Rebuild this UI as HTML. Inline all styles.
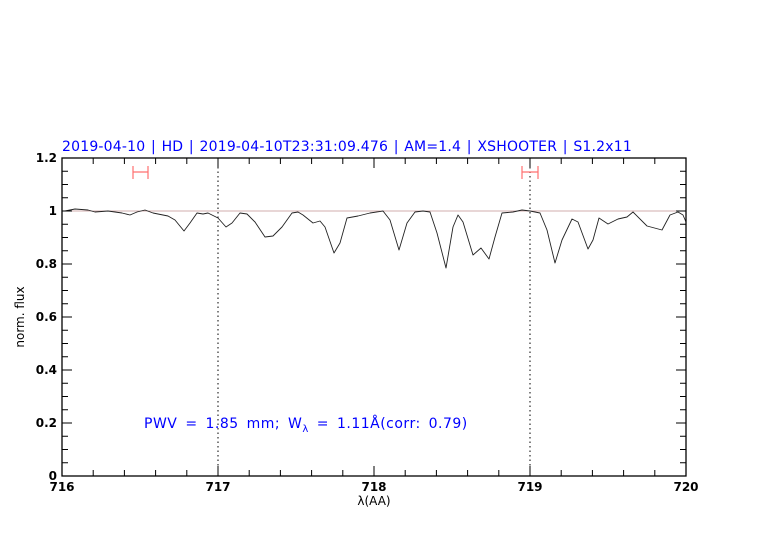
<!DOCTYPE html><html><head><style>body{margin:0;background:#fff}svg{display:block}</style></head><body>
<svg width="782" height="542" xmlns="http://www.w3.org/2000/svg" font-family="Liberation Sans, sans-serif">
<rect width="782" height="542" fill="#fff"/>
<text x="62" y="151" fill="#0000ff" font-size="14" font-family="DejaVu Sans, sans-serif" letter-spacing="0.2" word-spacing="1">2019-04-10 | HD | 2019-04-10T23:31:09.476 | AM=1.4 | XSHOOTER | S1.2x11</text>
<line x1="62" y1="211" x2="686" y2="211" stroke="#c09090" stroke-width="0.8"/>
<line x1="218" y1="158" x2="218" y2="476" stroke="#000" stroke-dasharray="1.5,3" stroke-width="1"/>
<line x1="530" y1="158" x2="530" y2="476" stroke="#000" stroke-dasharray="1.5,3" stroke-width="1"/>
<g stroke="#ff7070" stroke-width="1.2" fill="none">
<path d="M133 172H148M133 166V179M148 166V179"/>
<path d="M522 172H538M522 166V179M538 166V179"/>
</g>
<polyline fill="none" stroke="#222" stroke-width="0.9" stroke-linejoin="round" points="62,211 65,211 75,209 88,210 95,212 108,211 122,213 130,215 137,212 145,210 153,213 168,216 175,220 184,231 190,223 197,213 203,214 208,213 218,218 226,227 232,223 240,213 247,214 255,222 265,237 273,236 282,227 292,213 298,212 303,215 313,223 320,221 325,227 334,253 340,243 347,218 358,216 370,213 383,211 390,220 399,250 407,223 415,212 423,211 430,212 437,233 446,268 453,227 458,215 463,222 473,255 481,248 489,259 495,237 502,213 513,212 522,210 530,211 540,213 547,230 555,263 562,240 572,219 578,222 588,249 593,240 599,218 608,224 618,219 627,217 633,212 647,226 662,230 670,215 678,212 683,215 686,222"/>
<rect x="62" y="158" width="624" height="318" fill="none" stroke="#000" stroke-width="1.3"/>
<g font-size="12" fill="#000" text-anchor="middle" font-family="DejaVu Sans, sans-serif" font-weight="bold">
<text x="62" y="491">716</text><text x="218" y="491">717</text><text x="374" y="491">718</text><text x="530" y="491">719</text><text x="686" y="491">720</text>
<text x="374" y="505" font-weight="normal">λ(AA)</text>
</g>
<g font-size="12" fill="#000" text-anchor="end" font-family="DejaVu Sans, sans-serif" font-weight="bold">
<text x="57" y="480">0</text><text x="57" y="427">0.2</text><text x="57" y="374">0.4</text><text x="57" y="321">0.6</text><text x="57" y="268">0.8</text><text x="57" y="215">1</text><text x="57" y="162">1.2</text>
</g>
<text transform="translate(24,317) rotate(-90)" font-size="12" text-anchor="middle" font-family="DejaVu Sans, sans-serif">norm. flux</text>
<text x="144" y="428" fill="#0000ff" font-size="14" font-family="DejaVu Sans, sans-serif" letter-spacing="0.5" word-spacing="3">PWV = 1.85 mm; W<tspan font-size="10" dy="4">λ</tspan><tspan dy="-4"> = 1.11Å(corr: 0.79)</tspan></text>
<path id="tp" stroke="#000" stroke-width="1" fill="none" d=""/>
</svg>
<script>
var d="";
for(var i=0;i<=20;i++){var x=62+i*31.2;var L=(i%5==0)?10:6;d+="M"+x+" 476V"+(476-L)+"M"+x+" 158V"+(158+L);}
for(var j=0;j<=24;j++){var y=476-j*13.25;var L=(j%4==0)?10:6;d+="M62 "+y+"H"+(62+L)+"M686 "+y+"H"+(686-L);}
document.getElementById("tp").setAttribute("d",d);
</script>
</body></html>
